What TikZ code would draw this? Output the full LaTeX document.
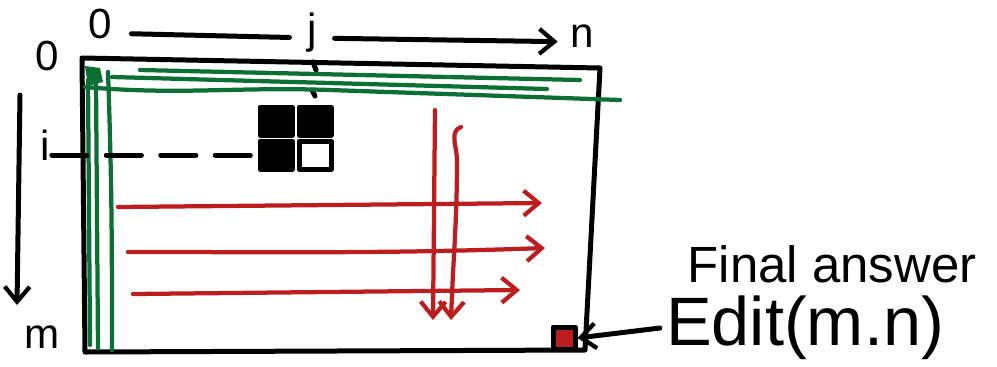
\documentclass[tikz,border=0pt]{standalone}
\usepackage{fontspec}
\setmainfont{Liberation Sans}
\usetikzlibrary{arrows.meta, positioning}
\definecolor{gridgreen}{RGB}{12,112,52}
\definecolor{pathred}{RGB}{188,30,32}
\tikzset{
  pen/.style={line width=1mm, line cap=round, line join=round},
  lbl/.style={font=\fontsize{24}{28}\selectfont, text height=1.6ex, text depth=0.4ex, inner sep=1pt},
  greenpen/.style={pen, gridgreen, line width=0.85mm},
  redpen/.style={pen, pathred, line width=0.85mm},
  barb/.style={-{Straight Barb[length=3mm, width=5mm, line width=0.85mm]}},
  cell/.style={draw, pen, minimum width=0.64cm, minimum height=0.56cm, inner sep=0pt},
}
\begin{document}
\begin{tikzpicture}[x=0.02cm, y=-0.02cm]
	\useasboundingbox (0,0) rectangle (997,366);
	% index labels
	\node[lbl] (c0) at (100,33) {0};
	\node[lbl] (cj) at (312,38) {j};
	\node[lbl] (cn) at (582,42) {n};
	\node[lbl] (r0) at (47,65) {0};
	\node[lbl] (ri) at (45,155) {i};
	\node[lbl] (rm) at (42,343) {m};
	\draw[pen, shorten <=10pt, shorten >=9pt] (c0) -- (cj);
	\draw[pen, barb, shorten <=9pt, shorten >=6pt] (cj) -- (cn);
	\draw[pen, barb] (20,95) -- (17,305);
	% matrix frame
	\draw[pen] (82,58) -- (600,68) -- (585,350) -- (85,352) -- cycle;
	\draw[pen] (313,62) -- (316,70);
	\draw[pen] (312,90) -- (315,96);
	% green first row and column
	\draw[greenpen] (140,70) -- (580,80);
	\draw[greenpen] (112,77) -- (547,89);
	\draw[greenpen] (85,87) to[out=-5,in=178] (330,90) to[out=-2,in=178] (620,100);
	\draw[greenpen] (88,80) -- (90,345);
	\draw[greenpen] (96,82) -- (98,348);
	\draw[greenpen] (108,72) to[out=-88,in=90] (112,350);
	\fill[gridgreen] (85,66) -- (100,68) -- (103,82) -- (88,86) -- cycle;
	% cells around (i,j)
	\node[cell, fill=black] (c00) at (276,121) {};
	\node[cell, fill=black] (c01) at (315,121) {};
	\node[cell, fill=black] (c10) at (276,155) {};
	\node[cell] (c11) at (315,155) {};
	\draw[pen, dash pattern=on 20pt off 11pt] (ri) -- (c10);
	% row and column sweeps
	\draw[redpen, barb] (118,207) -- (542,203);
	\draw[redpen, barb] (128,252) to[out=0,in=182] (545,248);
	\draw[redpen, barb] (133,294) -- (520,290);
	\draw[redpen, barb] (435,110) -- (433,320);
	\draw[redpen, barb] (461,127) to[out=200,in=90] (457,160) to[out=-90,in=88] (451,320);
	% final cell
	\node[draw, pen, fill=pathred, minimum size=0.44cm, inner sep=0pt] (mn) at (564,338) {};
	\node[font=\fontsize{29}{34}\selectfont] (final) at (832,264) {Final answer};
	\node[font=\fontsize{39}{44}\selectfont] (edit) at (805,328) {Edit(m.n)};
	\draw[pen, barb] (edit.west) -- (mn.east);
\end{tikzpicture}
\end{document}
